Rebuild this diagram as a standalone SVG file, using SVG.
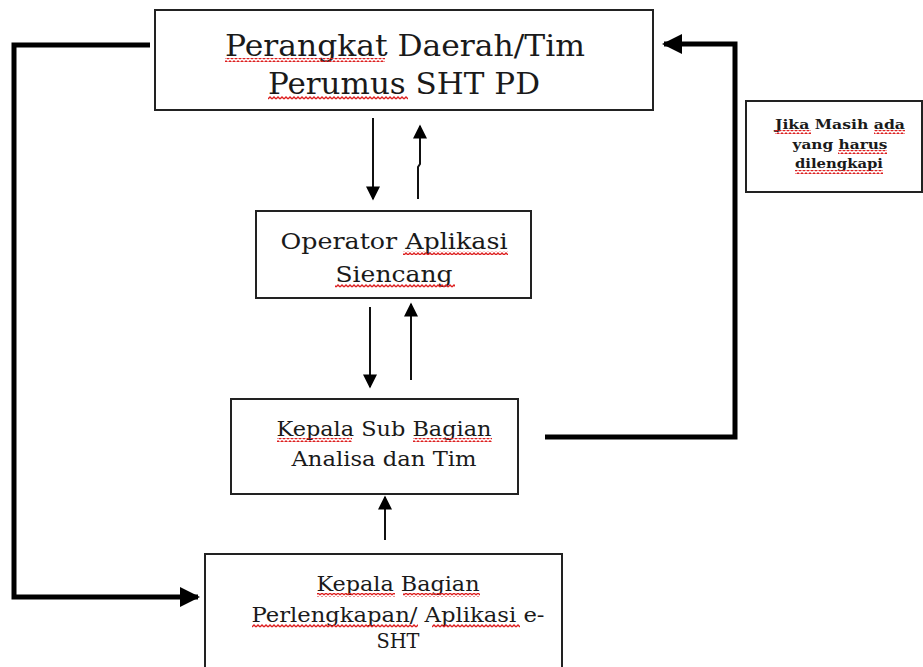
<svg xmlns="http://www.w3.org/2000/svg" width="923" height="667" viewBox="0 0 923 667">
<style>
.box{fill:#fff;stroke:#222;stroke-width:2}
.t{font-family:"DejaVu Serif","Liberation Serif",serif;fill:#1a1a1a;text-anchor:middle}
.thin{stroke:#111;stroke-width:2;fill:none}
.thick{stroke:#000;stroke-width:5;fill:none}
.sq{fill:url(#zig)}
</style>
<defs>
<marker id="ah" viewBox="0 0 10 10" refX="9" refY="5" markerWidth="8" markerHeight="7" orient="auto" markerUnits="strokeWidth"><path d="M0,0 L10,5 L0,10 z" fill="#000"/></marker>
<marker id="ahb" viewBox="0 0 10 10" refX="9" refY="5" markerWidth="4" markerHeight="4" orient="auto" markerUnits="strokeWidth"><path d="M0,0 L10,5 L0,10 z" fill="#000"/></marker>
<pattern id="zig" width="4" height="4" patternUnits="userSpaceOnUse"><path d="M0,3 L2,1 L4,3" stroke="#dd1f1f" stroke-width="1.3" fill="none"/></pattern>
</defs>
<rect width="923" height="667" fill="#fff"/>
<g id="connectors">
<path class="thick" d="M150,45 H14 V597 H198" marker-end="url(#ahb)"/>
<path class="thick" d="M545,437 H735 V44 H664" marker-end="url(#ahb)"/>
<path class="thin" d="M373,118 V199" marker-end="url(#ah)"/>
<path class="thin" d="M418,199 V167 L420,164 V126" marker-end="url(#ah)"/>
<path class="thin" d="M370,307 V387" marker-end="url(#ah)"/>
<path class="thin" d="M411,380 V304" marker-end="url(#ah)"/>
<path class="thin" d="M385,540 V497" marker-end="url(#ah)"/>
</g>
<g id="n1">
<rect class="box" x="155" y="10" width="498" height="100"/>
<text class="t" x="405" y="56" font-size="30" textLength="360" lengthAdjust="spacingAndGlyphs">Perangkat Daerah/Tim</text>
<text class="t" x="404" y="94" font-size="30" textLength="272" lengthAdjust="spacingAndGlyphs">Perumus SHT PD</text>
<rect class="sq" x="225" y="58" width="160" height="4"/>
<rect class="sq" x="268" y="96" width="140" height="4"/>
</g>
<g id="note">
<rect class="box" x="746" y="101" width="176" height="91"/>
<text class="t" x="840" y="129" font-size="13" font-weight="bold" textLength="130" lengthAdjust="spacingAndGlyphs">Jika Masih ada</text>
<text class="t" x="840" y="149" font-size="13" font-weight="bold" textLength="95" lengthAdjust="spacingAndGlyphs">yang harus</text>
<text class="t" x="839" y="168" font-size="13" font-weight="bold" textLength="88" lengthAdjust="spacingAndGlyphs">dilengkapi</text>
<rect class="sq" x="775" y="130" width="36" height="4"/>
<rect class="sq" x="874" y="130" width="31" height="4"/>
<rect class="sq" x="838" y="150" width="49" height="4"/>
<rect class="sq" x="795" y="170" width="88" height="4"/>
</g>
<g id="n2">
<rect class="box" x="256" y="211" width="275" height="87"/>
<text class="t" x="394" y="249" font-size="22" textLength="227" lengthAdjust="spacingAndGlyphs">Operator Aplikasi</text>
<text class="t" x="394" y="282" font-size="22" textLength="117" lengthAdjust="spacingAndGlyphs">Siencang</text>
<rect class="sq" x="403" y="251" width="105" height="4"/>
<rect class="sq" x="335" y="284" width="120" height="4"/>
</g>
<g id="n3">
<rect class="box" x="231" y="399" width="287" height="95"/>
<text class="t" x="384" y="436" font-size="21" textLength="215" lengthAdjust="spacingAndGlyphs">Kepala Sub Bagian</text>
<text class="t" x="384" y="466" font-size="21" textLength="185" lengthAdjust="spacingAndGlyphs">Analisa dan Tim</text>
<rect class="sq" x="277" y="438" width="75" height="4"/>
<rect class="sq" x="413" y="438" width="79" height="4"/>
</g>
<g id="n4">
<rect class="box" x="205" y="554" width="357" height="120"/>
<text class="t" x="398" y="591" font-size="20" textLength="163" lengthAdjust="spacingAndGlyphs">Kepala Bagian</text>
<text class="t" x="398" y="622" font-size="20" textLength="293" lengthAdjust="spacingAndGlyphs">Perlengkapan/  Aplikasi e-</text>
<text class="t" x="398" y="648" font-size="20" textLength="43" lengthAdjust="spacingAndGlyphs">SHT</text>
<rect class="sq" x="317" y="593" width="78" height="4"/>
<rect class="sq" x="403" y="593" width="77" height="4"/>
<rect class="sq" x="252" y="624" width="166" height="4"/>
<rect class="sq" x="432" y="624" width="88" height="4"/>
</g>
</svg>
